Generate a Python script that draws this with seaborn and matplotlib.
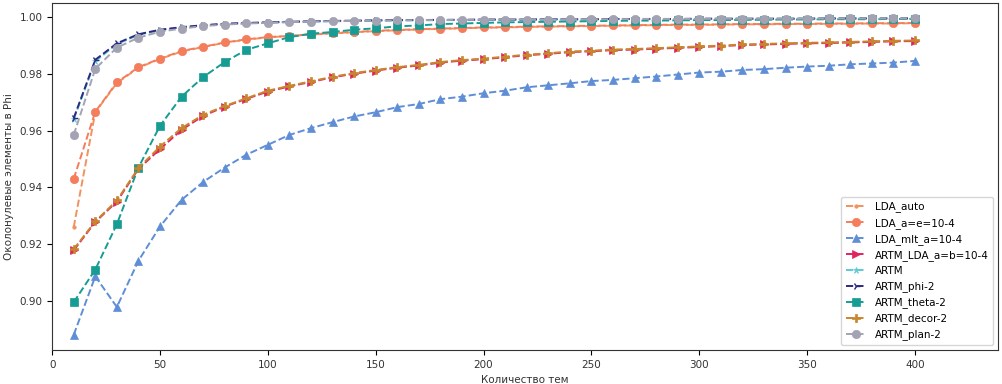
import matplotlib
matplotlib.use("Agg")
import matplotlib.pyplot as plt
import seaborn as sns

x_topics = [10, 20, 30, 40, 50, 60, 70, 80, 90, 100,
            110, 120, 130, 140, 150, 160, 170, 180, 190, 200,
            210, 220, 230, 240, 250, 260, 270, 280, 290, 300,
            310, 320, 330, 340, 350, 360, 370, 380, 390, 400]

lda_auto = [0.926, 0.9665, 0.9768, 0.9822, 0.9853, 0.9879, 0.9895, 0.9910, 0.9921, 0.9929,
            0.9934, 0.9939, 0.9943, 0.9947, 0.9951, 0.9954, 0.9957, 0.9959, 0.9961, 0.9963,
            0.9964, 0.9966, 0.9967, 0.9968, 0.9969, 0.9970, 0.9971, 0.9972, 0.9973, 0.9973,
            0.9974, 0.9975, 0.9975, 0.9976, 0.9976, 0.9977, 0.9977, 0.9978, 0.9978, 0.9979]

lda_ae = [0.943, 0.9667, 0.9770, 0.9824, 0.9854, 0.9881, 0.9896, 0.9911, 0.9922, 0.9930,
          0.9934, 0.9940, 0.9944, 0.9948, 0.9952, 0.9955, 0.9958, 0.9960, 0.9962, 0.9964,
          0.9965, 0.9967, 0.9968, 0.9969, 0.9970, 0.9971, 0.9972, 0.9973, 0.9974, 0.9974,
          0.9975, 0.9976, 0.9976, 0.9977, 0.9977, 0.9978, 0.9978, 0.9979, 0.9979, 0.9980]

lda_mlt = [0.888, 0.9086, 0.8978, 0.9141, 0.9262, 0.9356, 0.9419, 0.9470, 0.9515, 0.9550,
           0.9585, 0.9609, 0.9630, 0.9650, 0.9665, 0.9683, 0.9694, 0.9711, 0.9720, 0.9732,
           0.9741, 0.9753, 0.9760, 0.9767, 0.9775, 0.9779, 0.9785, 0.9791, 0.9798, 0.9805,
           0.9808, 0.9814, 0.9817, 0.9822, 0.9826, 0.9829, 0.9834, 0.9837, 0.9840, 0.9846]

artm_lda = [0.9178, 0.9278, 0.9350, 0.9465, 0.9535, 0.9603, 0.9652, 0.9685, 0.9712, 0.9738,
            0.9756, 0.9772, 0.9788, 0.9801, 0.9812, 0.9822, 0.9830, 0.9840, 0.9847, 0.9852,
            0.9859, 0.9866, 0.9871, 0.9877, 0.9880, 0.9884, 0.9886, 0.9889, 0.9892, 0.9895,
            0.9898, 0.9902, 0.9904, 0.9906, 0.9908, 0.9909, 0.9911, 0.9913, 0.9915, 0.9916]

artm = [0.9640, 0.9845, 0.9905, 0.9938, 0.9954, 0.9964, 0.9971, 0.9976, 0.9979, 0.9981,
        0.9983, 0.9985, 0.9986, 0.9987, 0.9988, 0.9989, 0.9989, 0.9990, 0.9990, 0.9991,
        0.9991, 0.9991, 0.9992, 0.9992, 0.9992, 0.9993, 0.9993, 0.9993, 0.9993, 0.9994,
        0.9994, 0.9994, 0.9994, 0.9994, 0.9995, 0.9995, 0.9995, 0.9995, 0.9995, 0.9995]

artm_phi = [0.9644, 0.9850, 0.9908, 0.9940, 0.9956, 0.9965, 0.9972, 0.9977, 0.9980, 0.9982,
            0.9984, 0.9986, 0.9987, 0.9988, 0.9989, 0.9990, 0.9990, 0.9991, 0.9991, 0.9992,
            0.9992, 0.9992, 0.9993, 0.9993, 0.9993, 0.9994, 0.9994, 0.9994, 0.9994, 0.9995,
            0.9995, 0.9995, 0.9995, 0.9995, 0.9995, 0.9996, 0.9996, 0.9996, 0.9996, 0.9996]

artm_theta = [0.8995, 0.9110, 0.9270, 0.9470, 0.9617, 0.9720, 0.9789, 0.9842, 0.9885, 0.9908,
              0.9930, 0.9942, 0.9948, 0.9956, 0.9961, 0.9968, 0.9971, 0.9976, 0.9978, 0.9980,
              0.9982, 0.9983, 0.9984, 0.9985, 0.9986, 0.9987, 0.9988, 0.9988, 0.9989, 0.9990,
              0.9990, 0.9991, 0.9991, 0.9992, 0.9992, 0.9993, 0.9993, 0.9993, 0.9994, 0.9994]

artm_decor = [0.9182, 0.9280, 0.9354, 0.9468, 0.9544, 0.9609, 0.9656, 0.9687, 0.9714, 0.9741,
              0.9758, 0.9774, 0.9790, 0.9803, 0.9814, 0.9824, 0.9832, 0.9842, 0.9849, 0.9854,
              0.9861, 0.9868, 0.9873, 0.9879, 0.9882, 0.9886, 0.9888, 0.9891, 0.9894, 0.9897,
              0.9900, 0.9904, 0.9906, 0.9908, 0.9910, 0.9911, 0.9913, 0.9915, 0.9917, 0.9918]

artm_plan = [0.9585, 0.9818, 0.9893, 0.9928, 0.9949, 0.9960, 0.9969, 0.9974, 0.9978, 0.9980,
             0.9983, 0.9985, 0.9986, 0.9987, 0.9988, 0.9989, 0.9990, 0.9990, 0.9991, 0.9991,
             0.9992, 0.9992, 0.9992, 0.9993, 0.9993, 0.9993, 0.9994, 0.9994, 0.9994, 0.9994,
             0.9995, 0.9995, 0.9995, 0.9995, 0.9995, 0.9996, 0.9996, 0.9996, 0.9996, 0.9996]

series_labels = ["LDA_auto", "LDA_a=e=10-4", "LDA_mlt_a=10-4", "ARTM_LDA_a=b=10-4", "ARTM",
                 "ARTM_phi-2", "ARTM_theta-2", "ARTM_decor-2", "ARTM_plan-2"]
series_values = [lda_auto, lda_ae, lda_mlt, artm_lda, artm, artm_phi, artm_theta, artm_decor, artm_plan]

colors = ["#f2925e", "#f47d5c", "#5f8ed6", "#e0245e", "#5ccbd6",
          "#2e2a82", "#179c94", "#c8862e", "#a3a3b3"]
markers = [".", "o", "^", ">", "*", "4", "s", "P", "o"]
msizes = [5, 6, 6, 6, 5, 6, 6, 6, 6]

plt.rcParams["font.family"] = ["DejaVu Sans"]
plt.rcParams["font.size"] = 7.5

fig = plt.figure(figsize=(10.03, 3.84), dpi=100)
ax = fig.add_axes([0.052, 0.089, 0.943, 0.903])

for lab, vals, c, m, ms in zip(series_labels, series_values, colors, markers, msizes):
    sns.lineplot(x=x_topics, y=vals, ax=ax, color=c, marker=m, markersize=ms,
                 linestyle="--", linewidth=1.4, label=lab,
                 markeredgecolor=c, markeredgewidth=1.0 if m == "4" else 0.5)

ax.set_xlim(0, 438.5)
ax.set_ylim(0.8827, 1.0050)
ax.set_yticks([0.90, 0.92, 0.94, 0.96, 0.98, 1.00])
ax.set_xticks([0, 50, 100, 150, 200, 250, 300, 350, 400])
ax.yaxis.set_major_formatter(matplotlib.ticker.FormatStrFormatter("%.2f"))
ax.set_xlabel("Количество тем", fontsize=7.5, color="#333333")
ax.set_ylabel("Околонулевые элементы в Phi", fontsize=7.5, color="#333333")
ax.tick_params(labelsize=7.5, labelcolor="#333333", length=3.5)
for s in ax.spines.values():
    s.set_color("#333333")

leg = ax.legend(loc="lower right", fontsize=7.5, frameon=True)
leg.get_frame().set_edgecolor("#cccccc")

fig.savefig("out.png", dpi=100)
